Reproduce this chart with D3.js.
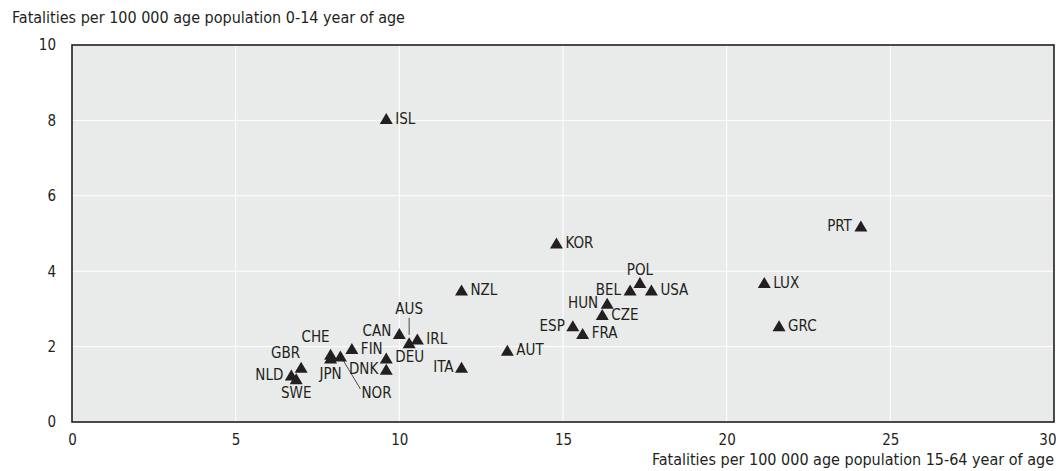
<!DOCTYPE html>
<html>
<head>
<meta charset="utf-8">
<script src="https://cdn.jsdelivr.net/npm/d3@7"></script>
<style>
  body { margin: 0; background: #fff; }
  svg text { font-family: "Liberation Sans Narrow", "Arial Narrow", "DejaVu Sans Condensed", sans-serif; fill: #231f20; }
</style>
</head>
<body>
<div class="chart"></div>
<script>
// country codes and values
var countries = ["ISL", "KOR", "PRT", "LUX", "GRC", "NZL", "POL", "BEL", "USA", "HUN", "CZE", "ESP", "FRA", "AUT",
                 "ITA", "CAN", "AUS", "IRL", "DEU", "DNK", "FIN", "CHE", "NOR", "JPN", "GBR", "NLD", "SWE"];
var adults   = [9.6, 14.8, 24.1, 21.15, 21.6, 11.9, 17.35, 17.05, 17.7, 16.35, 16.2, 15.3, 15.6, 13.3,
                11.9, 10.0, 10.3, 10.55, 9.6, 9.6, 8.55, 7.9, 8.2, 7.9, 7.0, 6.7, 6.85];
var children = [8.05, 4.75, 5.2, 3.7, 2.55, 3.5, 3.7, 3.5, 3.5, 3.15, 2.85, 2.55, 2.35, 1.9,
                1.45, 2.35, 2.1, 2.2, 1.7, 1.4, 1.95, 1.8, 1.75, 1.7, 1.45, 1.25, 1.15];
var xTicks = [0, 5, 10, 15, 20, 25, 30];
var yTicks = [0, 2, 4, 6, 8, 10];
var xTitle = "Fatalities per 100 000 age population 15-64 year of age";
var yTitle = "Fatalities per 100 000 age population 0-14 year of age";

// label placement: [dx, dy, anchor, leader line?]
var labelPos = {
  PRT: [-9, 5, "end"], HUN: [-9, 5, "end"], BEL: [-9, 5, "end"], ESP: [-8, 5, "end"],
  ITA: [-8, 5, "end"], CAN: [-8, 3, "end"], DNK: [-8, 5, "end"], NLD: [-8, 5, "end"],
  CHE: [-1, -12, "end"], GBR: [-1, -9, "end"],
  POL: [0, -8, "middle"], SWE: [0, 19, "middle"], JPN: [0, 21, "middle"],
  AUS: [0, -29, "middle", [0, -8, 0, -25]],
  NOR: [21, 42, "start", [2, 3, 20, 33]],
  DEU: [9, 4, "start"], FIN: [9, 6, "start"]
};

var margin = {top: 45, right: 2, bottom: 49, left: 72},
    width = 1056 - margin.left - margin.right,
    height = 471 - margin.top - margin.bottom;

var x = d3.scaleLinear().domain([0, 30]).range([0, width]);
var y = d3.scaleLinear().domain([0, 10]).range([height, 0]);

var svg = d3.select(".chart").append("svg")
    .attr("width", 1056)
    .attr("height", 471)
  .append("g")
    .attr("transform", "translate(" + margin.left + "," + margin.top + ")");

svg.append("rect")
    .attr("width", width)
    .attr("height", height)
    .style("fill", "#e9eaea");

svg.selectAll(".vgrid")
    .data(xTicks.slice(1, -1))
  .enter().append("line")
    .attr("x1", function(d) { return x(d); })
    .attr("x2", function(d) { return x(d); })
    .attr("y1", 0)
    .attr("y2", height)
    .style("stroke", "#fff")
    .style("stroke-width", 1);

svg.selectAll(".hgrid")
    .data(yTicks.slice(1, -1))
  .enter().append("line")
    .attr("x1", 0)
    .attr("x2", width)
    .attr("y1", function(d) { return y(d); })
    .attr("y2", function(d) { return y(d); })
    .style("stroke", "#fff")
    .style("stroke-width", 1);

svg.append("rect")
    .attr("width", width)
    .attr("height", height)
    .style("fill", "none")
    .style("stroke", "#231f20")
    .style("stroke-width", 1.6);

var xAxis = d3.axisBottom(x).tickValues(xTicks).tickSize(0).tickPadding(12);
var yAxis = d3.axisLeft(y).tickValues(yTicks).tickSize(0).tickPadding(16);

var xg = svg.append("g")
    .attr("transform", "translate(0," + height + ")")
    .call(xAxis)
    .call(function(g) { g.select(".domain").remove(); });
xg.selectAll("text").style("font-size", "15px");
// last label kept inside the page, as in the original
xg.selectAll(".tick").filter(function(d) { return d === 30; }).select("text")
    .style("text-anchor", "end")
    .attr("dx", 2);

svg.append("g")
    .call(yAxis)
    .call(function(g) { g.select(".domain").remove(); })
    .selectAll("text").style("font-size", "15px");

svg.append("text")
    .attr("x", width)
    .attr("y", height + 43)
    .style("text-anchor", "end")
    .style("font-size", "16px")
    .text(xTitle);

svg.append("text")
    .attr("x", 12 - margin.left)
    .attr("y", 23 - margin.top)
    .style("font-size", "16px")
    .text(yTitle);

// upward triangle centred on its bounding box
var tri = {
  draw: function(ctx, size) {
    var w = 13, h = 11;
    ctx.moveTo(0, -h / 2);
    ctx.lineTo(w / 2, h / 2);
    ctx.lineTo(-w / 2, h / 2);
    ctx.closePath();
  }
};

var data = countries.map(function(c, i) { return {code: c, x: adults[i], y: children[i]}; });

var pts = svg.selectAll(".pt")
    .data(data)
  .enter().append("g")
    .attr("class", "pt")
    .attr("transform", function(d) { return "translate(" + x(d.x) + "," + y(d.y) + ")"; });

pts.filter(function(d) { return labelPos[d.code] && labelPos[d.code][3]; })
  .append("line")
    .attr("x1", function(d) { return labelPos[d.code][3][0]; })
    .attr("y1", function(d) { return labelPos[d.code][3][1]; })
    .attr("x2", function(d) { return labelPos[d.code][3][2]; })
    .attr("y2", function(d) { return labelPos[d.code][3][3]; })
    .style("stroke", "#231f20")
    .style("stroke-width", 0.8);

pts.append("path")
    .attr("d", d3.symbol().type(tri))
    .style("fill", "#231f20");

pts.append("text")
    .attr("x", function(d) { return labelPos[d.code] ? labelPos[d.code][0] : 9; })
    .attr("y", function(d) { return labelPos[d.code] ? labelPos[d.code][1] : 5; })
    .style("text-anchor", function(d) { return labelPos[d.code] ? labelPos[d.code][2] : "start"; })
    .style("font-size", "15px")
    .text(function(d) { return d.code; });
</script>
</body>
</html>
